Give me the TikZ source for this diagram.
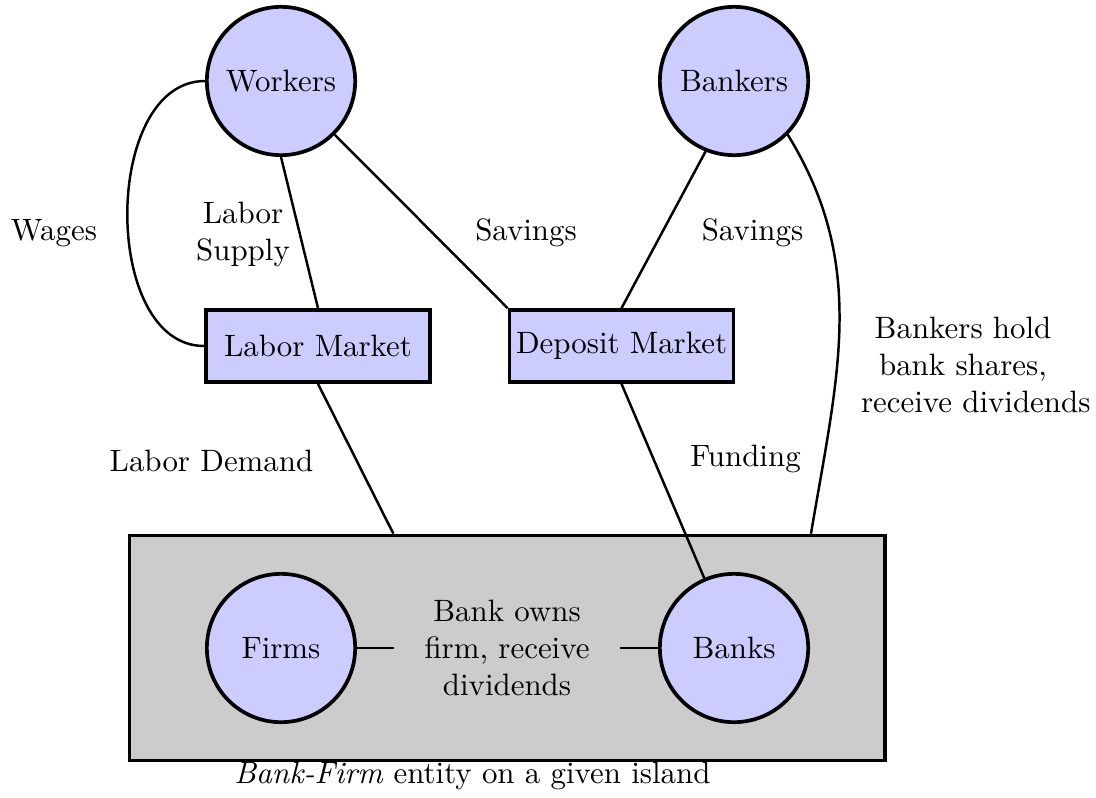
\documentclass[tikz,border=0pt]{standalone}
\usepackage{amsmath}
\usepackage{amssymb}
\usepackage{tikz}
\usetikzlibrary{calc}

\begin{document}
\begin{tikzpicture}[x=0.3236pt,y=0.3236pt,yscale=-1,xscale=1,
  agent/.style={circle,draw,very thick,fill=blue!20,minimum size=48pt,inner sep=0pt},
  market/.style={rectangle,draw,very thick,fill=blue!20,minimum width=72.5pt,minimum height=23.3pt,inner xsep=1pt},
  island/.style={rectangle,draw,very thick,fill=black!20,minimum width=244.5pt,minimum height=72.8pt},
  link/.style={thick},
  note/.style={align=center},
  widenote/.style={align=center,text width=66pt}]
\useasboundingbox (0,0) rectangle (1096,797);

%Shape: Rectangle (island)
\node (bankfirm) [island] at (507.25,648) {};

%Shape: Circle
\node (workers) [agent] at (281,81) {Workers};
%Shape: Circle
\node (bankers) [agent] at (734,81) {Bankers};
%Shape: Circle
\node (firms) [agent] at (281,648) {Firms};
%Shape: Circle
\node (banks) [agent] at (734,648) {Banks};

%Shape: Rectangle
\node (labor) [market] at (318,346) {Labor Market};
%Shape: Rectangle
\node (deposit) [market] at (621.5,346) {Deposit Market};

% Text Node
\node (bankowns) [widenote] at (507,648) {Bank owns firm, receive dividends};

%Curve Lines
\draw [link] (workers.west) .. controls +(-103,0) and +(-103,0) .. (labor.west);
%Straight Lines
\draw [link] (workers.south) -- (labor.north);
%Straight Lines
\draw [link] (workers.south east) -- (deposit.north west);
%Straight Lines
\draw [link] (bankers.248) -- (deposit.north);
%Curve Lines
\draw [link] (bankers.south east) .. controls +(80,130) and +(27,-160) .. ($(bankfirm.north)!0.8!(bankfirm.north east)$);
%Straight Lines
\draw [link] (labor.south) -- ($(bankfirm.north)!0.3!(bankfirm.north west)$);
%Straight Lines
\draw [link] (deposit.south) -- (banks);
%Straight Lines
\draw [link] (firms) -- (bankowns);
%Straight Lines
\draw [link] (bankowns) -- (banks);

% Text Node
\node (wages) at (54,233) {Wages};
% Text Node
\node (laborsupply) [note] at (243,234) {Labor\\Supply};
% Text Node
\node (savingsw) at (526,233) {Savings};
% Text Node
\node (savingsb) at (752.5,233) {Savings};
% Text Node
\node (bankershold) [widenote] at (963,365) {Bankers hold\\bank shares,\\\mbox{receive dividends}};
% Text Node
\node (labordemand) at (211.5,461) {Labor Demand};
% Text Node
\node (funding) at (745.5,459) {Funding};
% Text Node
\node (caption) [anchor=base] at (472.5,783) {\textit{Bank-Firm} entity on a given island};

\end{tikzpicture}
\end{document}
